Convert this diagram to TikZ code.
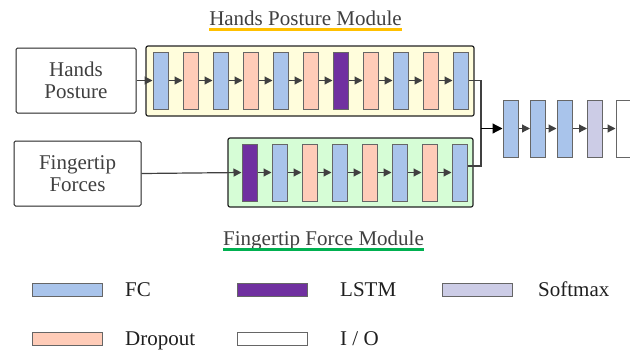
\documentclass[tikz,border=0pt]{standalone}
\usepackage{fontspec}
\setmainfont{Liberation Serif}
\usetikzlibrary{arrows.meta}
\definecolor{fcblue}{HTML}{A9C4EB}
\definecolor{droppink}{HTML}{FFCCB8}
\definecolor{lstmpurple}{HTML}{7030A0}
\definecolor{softlav}{HTML}{CCCCE6}
\definecolor{blkedge}{HTML}{666666}
\definecolor{yellowbg}{HTML}{FFFDDC}
\definecolor{greenbg}{HTML}{D6FDD6}
\definecolor{ulyellow}{HTML}{FFC000}
\definecolor{ulgreen}{HTML}{00B050}
\definecolor{txtgray}{HTML}{404040}
\definecolor{arrgray}{HTML}{404040}
\definecolor{framedark}{HTML}{222222}
\begin{document}
\begin{tikzpicture}[x=1pt,y=-1pt,
  txt/.style={font=\fontsize{21}{21}\selectfont, inner sep=0pt},
  layer/.style={draw=blkedge, line width=1pt, minimum width=15pt, minimum height=57pt, inner sep=0pt},
  fcbox/.style={layer, fill=fcblue},
  dpbox/.style={layer, fill=droppink},
  lsbox/.style={layer, fill=lstmpurple},
  smbox/.style={layer, fill=softlav},
  iobox/.style={layer, fill=white},
  modbox/.style={draw=framedark, line width=1.2pt, rounded corners=2pt, inner sep=0pt},
  inbox/.style={draw=framedark, line width=1pt, rounded corners=1.5pt, fill=white, align=center,
    text=txtgray, font=\fontsize{21}{21.5}\selectfont, inner sep=0pt},
  arr/.style={draw=arrgray, line width=1.2pt, -{Triangle[length=8pt,width=8pt]}},
  link/.style={draw=arrgray, line width=1.2pt},
  bigarr/.style={draw=black, line width=1.2pt, -{Triangle[length=10pt,width=10pt]}},
  legbox/.style={draw=blkedge, line width=1pt, minimum width=70pt, minimum height=13pt, inner sep=0pt},
  legtxt/.style={txt, text=black!88, anchor=base west},
  title/.style={txt, text=txtgray, anchor=base}
]
\useasboundingbox (0,0) rectangle (630,349);

% titles
\node[title] (ht) at (305.5,25) {Hands Posture Module};
\draw[ulyellow, line width=3pt] ([yshift=-4.3pt]ht.base west) -- ([yshift=-4.3pt]ht.base east);
\node[title] (ft) at (323.5,245) {Fingertip Force Module};
\draw[ulgreen, line width=3pt] ([yshift=-4.3pt]ft.base west) -- ([yshift=-4.3pt]ft.base east);

% module frames
\node[modbox, fill=yellowbg, minimum width=328pt, minimum height=70pt] (hm) at (310,81) {};
\node[modbox, fill=greenbg, minimum width=245pt, minimum height=69pt] (fm) at (350.5,172.5) {};

% input boxes
\node[inbox, minimum width=120pt, minimum height=65pt] (hp) at (76,80.5) {Hands\\Posture};
\node[inbox, minimum width=127pt, minimum height=65pt] (ff) at (77.5,173.5) {Fingertip\\Forces};

% top chain
\foreach \s [count=\i] in {fcbox,dpbox,fcbox,dpbox,fcbox,dpbox,lsbox,dpbox,fcbox,dpbox,fcbox}
  \node[\s] (t\i) at ({160.5+30*(\i-1)},80.5) {};
\foreach \i in {1,...,10}{
  \pgfmathtruncatemacro\j{\i+1}
  \draw[arr] (t\i.east) -- (t\j.west);
}
\draw[arr] (hp.east) -- (t1.west);

% bottom chain
\foreach \s [count=\i] in {lsbox,fcbox,dpbox,fcbox,dpbox,fcbox,dpbox,fcbox}
  \node[\s] (b\i) at ({249.5+30*(\i-1)},172.5) {};
\foreach \i in {1,...,7}{
  \pgfmathtruncatemacro\j{\i+1}
  \draw[arr] (b\i.east) -- (b\j.west);
}
\draw[arr] (ff.east) -- (b1.west);

% output chain
\foreach \xx/\s [count=\i] in {510.5/fcbox,538/fcbox,564.5/fcbox,595/smbox,623.5/iobox}
  \node[\s] (o\i) at (\xx,128.5) {};
\foreach \i in {1,...,4}{
  \pgfmathtruncatemacro\j{\i+1}
  \draw[arr] (o\i.east) -- (o\j.west);
}
\coordinate (j) at (481,128.5);
\draw[link] (t11.east) -| (j);
\draw[link] ([yshift=6.5pt]b8.east) -| (j);
\draw[bigarr] (j) -- (o1.west);

% legend
\node[legbox, fill=fcblue] (l1) at (67,289.5) {};
\node[legtxt] (l1t) at (125,296.5) {FC};
\node[legbox, fill=lstmpurple] (l2) at (272,289.5) {};
\node[legtxt] (l2t) at (340,296.5) {LSTM};
\node[legbox, fill=softlav] (l3) at (477.5,289.5) {};
\node[legtxt] (l3t) at (538,296.5) {Softmax};
\node[legbox, fill=droppink] (l4) at (67,338.5) {};
\node[legtxt] (l4t) at (125,345.5) {Dropout};
\node[legbox, fill=white] (l5) at (272,338.5) {};
\node[legtxt] (l5t) at (340,345.5) {I / O};
\end{tikzpicture}
\end{document}
